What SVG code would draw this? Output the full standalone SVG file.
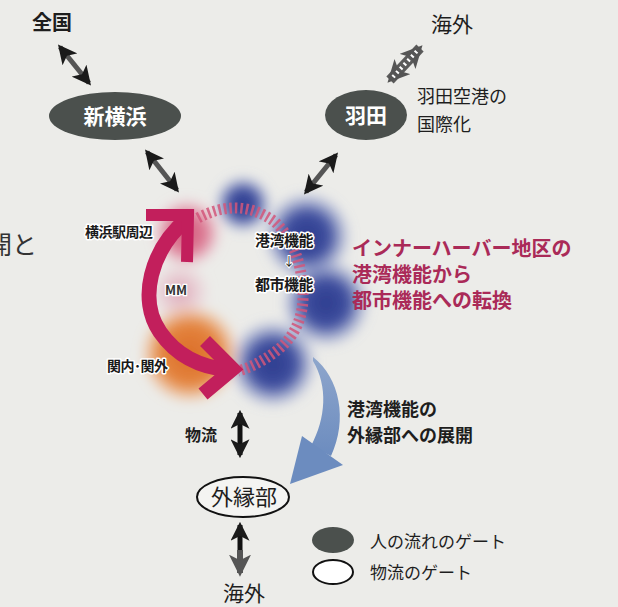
<svg xmlns="http://www.w3.org/2000/svg" width="618" height="607" viewBox="0 0 618 607">
<style>
text{font-family:"Noto Sans CJK JP","Noto Sans",sans-serif}
.t{fill:#1e1e1e}
.ol{font-weight:bold;fill:#1a1a1a;stroke:#fff;stroke-width:3;paint-order:stroke;stroke-linejoin:round}
.mg{fill:#aa2a58;font-weight:bold}
.gw{fill:#fff;font-weight:bold}
.gs{stroke:#555;stroke-width:5;fill:none}
.bk{stroke:#111;stroke-width:5;fill:none}
</style>
<defs>
<marker id="hk" viewBox="0 0 12 12" refX="10" refY="6" markerWidth="19" markerHeight="19" markerUnits="userSpaceOnUse" orient="auto-start-reverse"><path d="M0,0 L12,6 L0,12 L3,6 Z" fill="#1a1a1a"/></marker>
<marker id="hg" viewBox="0 0 12 12" refX="10" refY="6" markerWidth="22" markerHeight="22" markerUnits="userSpaceOnUse" orient="auto-start-reverse"><path d="M0,0 L12,6 L0,12 L3,6 Z" fill="#555"/></marker>
<filter id="blur" x="-50%" y="-50%" width="200%" height="200%"><feGaussianBlur stdDeviation="6"/></filter>
<radialGradient id="gb"><stop offset="0" stop-color="#2d3b8e"/><stop offset="0.55" stop-color="#3f4f9f"/><stop offset="1" stop-color="#8a98cc" stop-opacity="0.2"/></radialGradient>
<radialGradient id="gp"><stop offset="0" stop-color="#d35a7c"/><stop offset="0.6" stop-color="#dd7d96"/><stop offset="1" stop-color="#eab0c0" stop-opacity="0.2"/></radialGradient>
<radialGradient id="gl"><stop offset="0" stop-color="#dba0b2"/><stop offset="1" stop-color="#ecc8d2" stop-opacity="0.3"/></radialGradient>
<radialGradient id="go"><stop offset="0" stop-color="#dc6d28"/><stop offset="0.65" stop-color="#e4853f"/><stop offset="1" stop-color="#f0b080" stop-opacity="0.3"/></radialGradient>
<linearGradient id="gblue" x1="0" y1="0" x2="0" y2="1"><stop offset="0" stop-color="#8ea6cc"/><stop offset="1" stop-color="#6c8cbf"/></linearGradient>
</defs>
<rect width="618" height="607" fill="#ecece9"/>
<text x="-13" y="254" font-size="25" fill="#333">開と</text>

<g id="blobs" filter="url(#blur)">
<circle cx="243" cy="204" r="27" fill="url(#gb)"/>
<circle cx="307" cy="236" r="42" fill="url(#gb)"/>
<circle cx="326" cy="303" r="42" fill="url(#gb)"/>
<circle cx="273" cy="364" r="42" fill="url(#gb)"/>
<circle cx="187" cy="233" r="33" fill="url(#gp)"/>
<circle cx="180" cy="292" r="27" fill="url(#gl)"/>
<circle cx="190" cy="354" r="47" fill="url(#go)"/>
</g>

<g id="connectors">
<path d="M198,218 Q240,196 275,222 Q300,245 303,290 Q305,330 275,352 Q256,366 238,371" fill="none" stroke="#d2567a" stroke-width="11" stroke-dasharray="2.5 3" opacity="0.85"/>
<line class="gs" x1="60" y1="47" x2="89" y2="83" marker-start="url(#hk)" marker-end="url(#hk)"/>
<line class="gs" x1="147" y1="152" x2="177" y2="190" marker-start="url(#hk)" marker-end="url(#hk)"/>
<line class="gs" x1="336" y1="155" x2="306" y2="192" marker-start="url(#hk)" marker-end="url(#hk)"/>
<line x1="390" y1="80" x2="420" y2="48" stroke="#5a5a5a" stroke-width="10" marker-start="url(#hg)" marker-end="url(#hg)"/>
<line x1="393" y1="77" x2="417" y2="51" stroke="#fff" stroke-width="4" stroke-dasharray="2 3.5"/>
<path d="M188,218 C150,250 138,300 160,332 C178,358 205,368 230,370" fill="none" stroke="#c21f5c" stroke-width="15"/>
<polyline points="146,215 188,215 187,262" fill="none" stroke="#c21f5c" stroke-width="12"/>
<polyline points="205,341 233,369 203,394" fill="none" stroke="#c21f5c" stroke-width="14"/>
<path d="M313,357 C340,378 348,420 331,456 L311,446 C326,418 328,386 313,361 Z" fill="url(#gblue)"/>
<path d="M302,436 L343,465 L290,484 Z" fill="#6c8cbf"/>
<line class="bk" x1="240" y1="413" x2="240" y2="455" marker-start="url(#hk)" marker-end="url(#hk)"/>
<line class="bk" x1="240" y1="525" x2="240" y2="552" marker-start="url(#hk)"/>
<line x1="240" y1="550" x2="240" y2="573" stroke="#555" stroke-width="6" marker-end="url(#hg)"/>
</g>

<g id="zenkoku"><text class="t" x="52" y="30" font-size="20" text-anchor="middle" font-weight="bold">全国</text></g>
<g id="shinyokohama"><ellipse cx="115" cy="116" rx="66" ry="24" fill="#4b504d"/><text class="gw" x="115" y="124" font-size="21" text-anchor="middle">新横浜</text></g>
<g id="kaigai1"><text class="t" x="452" y="32" font-size="21" text-anchor="middle">海外</text></g>
<g id="haneda"><ellipse cx="366" cy="115" rx="41" ry="25" fill="#4b504d"/><text class="gw" x="366" y="123" font-size="21" text-anchor="middle">羽田</text></g>
<g id="haneda-label"><text class="t" x="417" y="103" font-size="18">羽田空港の</text><text class="t" x="417" y="131" font-size="18">国際化</text></g>
<g id="yokohama-st"><text class="ol" x="85" y="237" font-size="14" letter-spacing="-0.5">横浜駅周辺</text></g>
<g id="mm"><text x="165" y="295" font-size="13" font-weight="bold" fill="#333" stroke="#fff" stroke-width="2.5" paint-order="stroke">MM</text></g>
<g id="kannai"><text class="ol" x="107" y="371" font-size="14" letter-spacing="-0.5">関内･関外</text></g>
<g id="port-city"><text class="ol" x="255" y="246" font-size="15" letter-spacing="-0.5">港湾機能</text><text x="289" y="266" font-size="12" fill="#222" text-anchor="middle" stroke="#fff" stroke-width="2" paint-order="stroke">↓</text><text class="ol" x="255" y="290" font-size="15" letter-spacing="-0.5">都市機能</text></g>
<g id="inner-harbor"><text class="mg" x="352" y="256" font-size="20">インナーハーバー地区の</text><text class="mg" x="352" y="282" font-size="20">港湾機能から</text><text class="mg" x="352" y="308" font-size="20">都市機能への転換</text></g>
<g id="expand-label"><text class="t" x="347" y="416" font-size="18" font-weight="bold">港湾機能の</text><text class="t" x="347" y="442" font-size="18" font-weight="bold">外縁部への展開</text></g>
<g id="butsuryu"><text class="t" x="185" y="441" font-size="16" font-weight="bold">物流</text></g>
<g id="gaienbu"><ellipse cx="243" cy="497" rx="46" ry="20" fill="#f4f4f2" stroke="#111" stroke-width="2"/><text class="t" x="244" y="505" font-size="22" text-anchor="middle">外縁部</text></g>
<g id="kaigai2"><text class="t" x="244" y="601" font-size="21" text-anchor="middle">海外</text></g>
<g id="legend">
<ellipse cx="333" cy="540" rx="21" ry="13" fill="#4b504d"/>
<text class="t" x="370" y="548" font-size="17">人の流れのゲート</text>
<ellipse cx="333" cy="572" rx="20" ry="12" fill="#fff" stroke="#111" stroke-width="2"/>
<text class="t" x="370" y="579" font-size="17">物流のゲート</text>
</g>
</svg>
